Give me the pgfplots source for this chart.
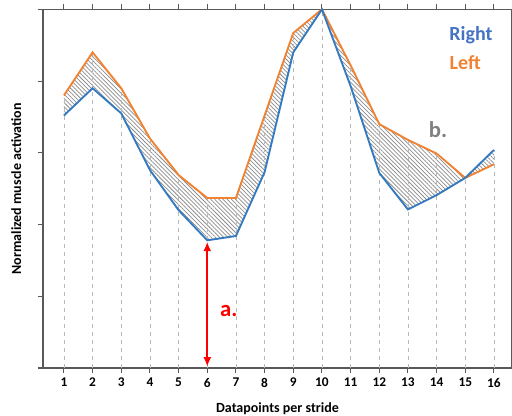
\documentclass[border=0pt]{standalone}
\usepackage{fontspec}
\setmainfont{Carlito}
\usepackage{pgfplots}
\pgfplotsset{compat=1.18}
\usepgfplotslibrary{fillbetween}
\usetikzlibrary{patterns.meta,arrows.meta}

\definecolor{rightblue}{RGB}{52,122,190}
\definecolor{lefto}{RGB}{240,130,50}
\definecolor{txtblue}{RGB}{68,114,196}
\definecolor{axgray}{RGB}{89,89,89}
\definecolor{pure}{RGB}{255,0,0}

\begin{document}
\begin{tikzpicture}
\begin{axis}[
  scale only axis,
  width=351.75pt, height=269pt,
  xmin=0.27, xmax=16.63,
  ymin=0, ymax=5,
  xtick={1,...,16},
  ytick={0,1,2,3,4,5},
  yticklabels={},
  tick align=outside,
  major tick length=4pt,
  tick style={axgray, line width=0.8pt},
  axis line style={axgray, line width=1pt},
  ticklabel style={font=\fontsize{10}{12}\selectfont\bfseries},
  /pgf/number format/assume math mode=true,
  xlabel={Datapoints per stride},
  ylabel={Normalized muscle activation},
  label style={font=\fontsize{10.5}{12}\selectfont\bfseries},
  xlabel style={yshift=-5pt},
  ylabel style={yshift=2pt},
  clip=false,
]

% vertical guide lines
\addplot[ycomb, no marks, dashed, gray!55, line width=0.6pt] coordinates {
  (1,3.80) (2,4.40) (3,3.90) (4,3.20) (5,2.69) (6,2.37) (7,2.37) (8,3.52)
  (9,4.67) (10,5.0) (11,4.22) (12,3.40) (13,3.18) (14,2.99) (15,2.65) (16,3.04)
};

% Left
\addplot[name path=L, lefto, line width=1.4pt, no marks] coordinates {
  (1,3.80) (2,4.40) (3,3.90) (4,3.20) (5,2.69) (6,2.37) (7,2.37) (8,3.52)
  (9,4.67) (10,5.0) (11,4.22) (12,3.40) (13,3.18) (14,2.99) (15,2.65) (16,2.84)
};
% Right
\addplot[name path=R, rightblue, line width=1.4pt, no marks] coordinates {
  (1,3.52) (2,3.90) (3,3.55) (4,2.76) (5,2.20) (6,1.78) (7,1.84) (8,2.73)
  (9,4.40) (10,5.0) (11,3.93) (12,2.72) (13,2.21) (14,2.41) (15,2.65) (16,3.04)
};

\addplot[pattern={Lines[angle=-45,distance=2.2pt,line width=0.55pt]}, pattern color=gray!90, draw=none]
  fill between[of=L and R];

% arrow a.
\addplot[pure, line width=1.7pt, no marks, {Latex[length=7pt,width=6pt]}-{Latex[length=7pt,width=6pt]}]
  coordinates {(6,0.02) (6,1.76)};

\node[pure, font=\fontsize{17}{19}\selectfont\bfseries] at (axis cs:6.75,0.80) {a.};
\node[gray, font=\fontsize{17}{19}\selectfont\bfseries] at (axis cs:14.05,3.32) {b.};
\node[txtblue, font=\fontsize{15}{18}\selectfont\bfseries] at (axis cs:15.2,4.64) {Right};
\node[lefto, font=\fontsize{15}{18}\selectfont\bfseries] at (axis cs:15.0,4.26) {Left};
\end{axis}
\pgfresetboundingbox
\useasboundingbox (current axis.south west) ++(-32.25pt,-36pt) rectangle ++(384pt,312pt);
\end{tikzpicture}
\end{document}
